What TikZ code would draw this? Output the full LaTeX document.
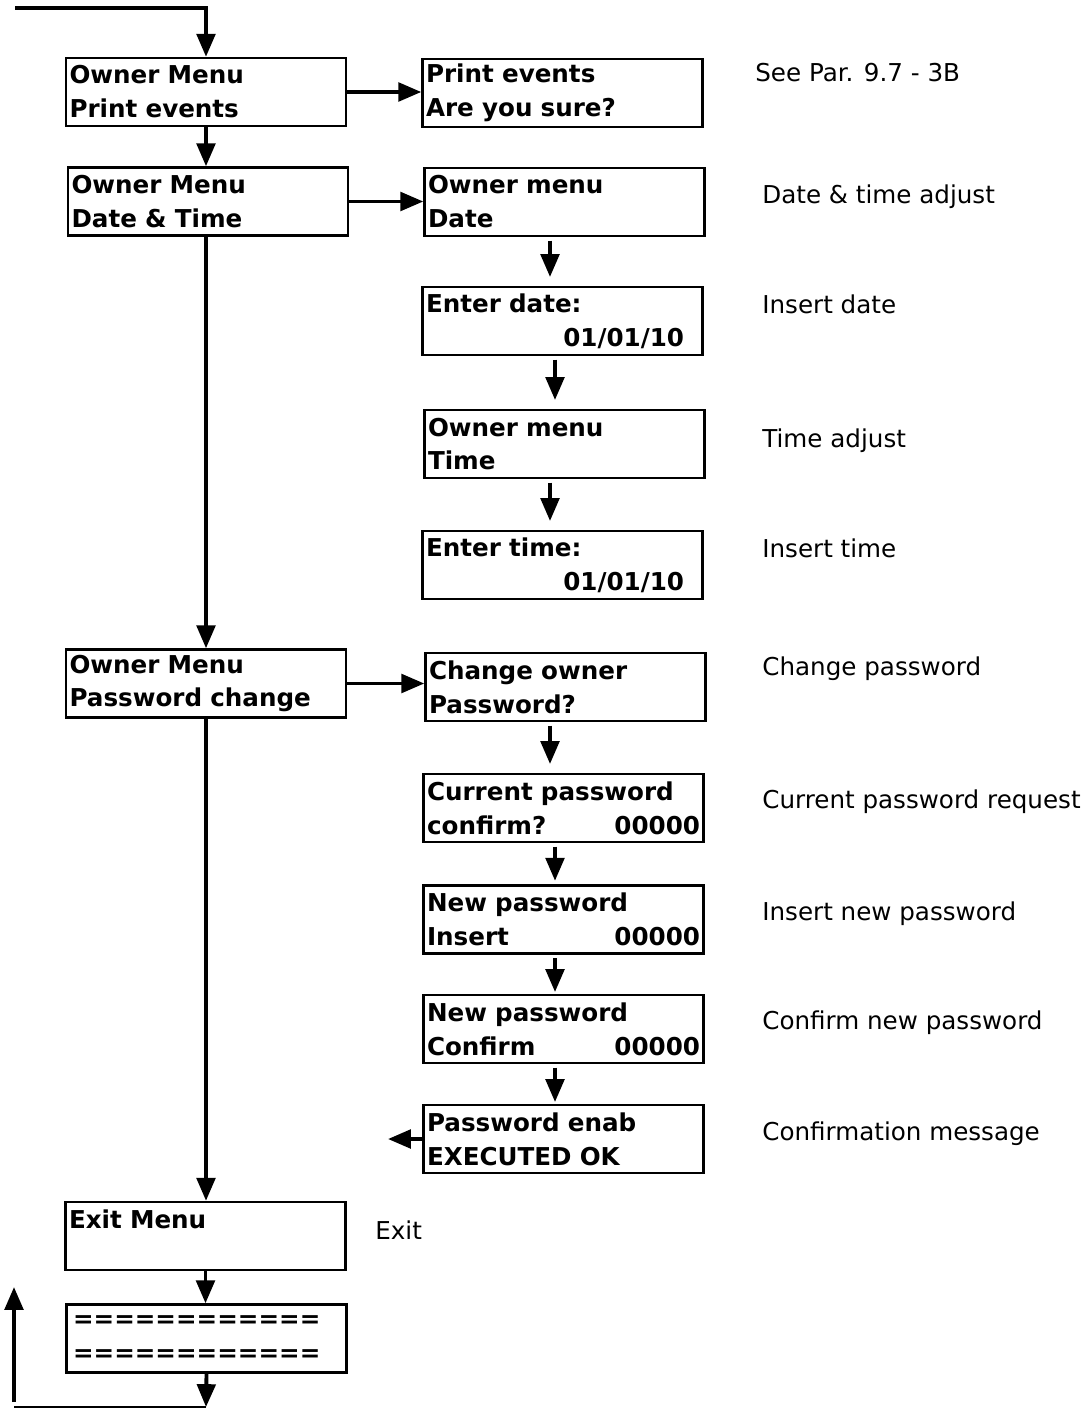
\documentclass[tikz,border=0pt]{standalone}
\usepackage{fontspec}
\setmainfont{DejaVu Sans}
\usetikzlibrary{arrows.meta}

\begin{document}
\begin{tikzpicture}[x=0.02cm,y=-0.02cm]
    \tikzstyle{every node}+=[inner sep=0pt]
    \tikzstyle{box}=[draw,line width=1.4pt,minimum width=5.6cm,minimum height=1.36cm,
        text width=5.46cm,align=left,font=\fontsize{14}{19.3}\selectfont\bfseries]
    \tikzstyle{note}=[anchor=base west,font=\fontsize{14}{17}\selectfont]
    \tikzstyle{arr}=[line width=2.2pt,-{Triangle[length=13pt,width=10.5pt]}]
    \useasboundingbox (0,0) rectangle (1088,1409);
    \node [box] (b1) at (206,92) {Owner Menu\\Print events};
    \node [box] (b2) at (208,201.5) {Owner Menu\\Date \& Time};
    \node [box] (b3) at (206,683.5) {Owner Menu\\Password change};
    \node [box] (b4) at (205.5,1236) {Exit Menu\\\mbox{}};
    \node [box] (b5) at (206.5,1338.5) {\hspace*{0.06cm}============\\\hspace*{0.06cm}============};
    \node [box] (r1) at (562.5,93) {Print events\\Are you sure?};
    \node [box] (r2) at (564.5,202) {Owner menu\\Date};
    \node [box] (r3) at (562.5,321) {Enter date:\\\hfill 01/01/10\kern0.3cm\mbox{}};
    \node [box] (r4) at (564.5,444) {Owner menu\\Time};
    \node [box] (r5) at (562.5,565) {Enter time:\\\hfill 01/01/10\kern0.3cm\mbox{}};
    \node [box] (r6) at (565.5,687) {Change owner\\Password?};
    \node [box] (r7) at (563.5,808) {Current password\\confirm?\hfill 00000};
    \node [box] (r8) at (563.5,919.5) {New password\\Insert\hfill 00000};
    \node [box] (r9) at (563.5,1029) {New password\\Confirm\hfill 00000};
    \node [box] (r10) at (563.5,1139) {Password enab\\EXECUTED OK};
    \node [note] (n1) at (755,82) {See Par. 9.7 - 3B};
    \node [note] (n2) at (762,204) {Date \& time adjust};
    \node [note] (n3) at (762,313) {Insert date};
    \node [note] (n4) at (762,447) {Time adjust};
    \node [note] (n5) at (762,557) {Insert time};
    \node [note] (n6) at (762,675) {Change password};
    \node [note] (n7) at (762,808) {Current password request};
    \node [note] (n8) at (762,920) {Insert new password};
    \node [note] (n9) at (762,1029) {Confirm new password};
    \node [note] (n10) at (762,1140) {Confirmation message};
    \node [note] (n11) at (375,1239) {Exit};
    \coordinate (start) at (15,8);
    \coordinate (back) at (388,1139);
    \coordinate (loopa) at (206,1407);
    \coordinate (loopb) at (14,1407);
    \coordinate (loopc) at (14,1287);
    \coordinate (loopd) at (14,1402);
    \coordinate (ca) at (550,0);
    \coordinate (cb) at (555,0);
    \draw [arr] (start) -| (b1.north);
    \draw [arr] (b1.south) -- (b1.south |- b2.north);
    \draw [arr] (b1.east) -- (b1.east -| r1.west);
    \draw [arr] (b2.east) -- (b2.east -| r2.west);
    \draw [arr] (b3.north |- b2.south) -- (b3.north);
    \draw [arr] (b3.east) -- (b3.east -| r6.west);
    \draw [arr] (b3.south) -- (b3.south |- b4.north);
    \draw [arr] (b4.south) -- (b4.south |- b5.north);
    \draw [arr] (b5.south) -- (loopa);
    \draw [line width=1.2pt] (loopa) -- (loopb);
    \draw [arr] (loopd) -- (loopc);
    \draw [arr,shorten <=2pt,shorten >=5pt] (r2.south -| ca) -- (r3.north -| ca);
    \draw [arr,shorten <=2pt,shorten >=5pt] (r3.south -| cb) -- (r4.north -| cb);
    \draw [arr,shorten <=2pt,shorten >=5pt] (r4.south -| ca) -- (r5.north -| ca);
    \draw [arr,shorten <=2pt,shorten >=5pt] (r6.south -| ca) -- (r7.north -| ca);
    \draw [arr,shorten <=2pt,shorten >=2pt] (r7.south -| cb) -- (r8.north -| cb);
    \draw [arr,shorten <=2pt,shorten >=1pt] (r8.south -| cb) -- (r9.north -| cb);
    \draw [arr,shorten <=2pt,shorten >=1pt] (r9.south -| cb) -- (r10.north -| cb);
    \draw [arr] (r10.west) -- (back);
\end{tikzpicture}
\end{document}
